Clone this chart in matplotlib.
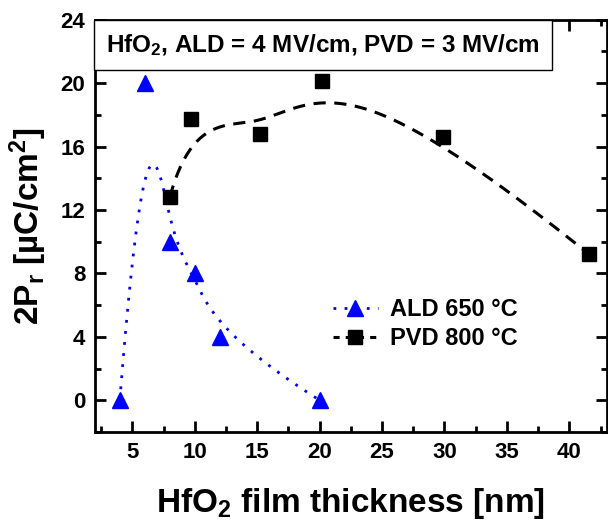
import numpy as np
import matplotlib
matplotlib.use("Agg")
import matplotlib.pyplot as plt

plt.rcParams['font.family'] = ['Liberation Sans', 'DejaVu Sans']
plt.rcParams['font.weight'] = 'bold'
plt.rcParams['axes.labelweight'] = 'bold'
plt.rcParams['mathtext.fontset'] = 'custom'
plt.rcParams['mathtext.rm'] = 'Liberation Sans:bold'
plt.rcParams['mathtext.bf'] = 'Liberation Sans:bold'
plt.rcParams['mathtext.it'] = 'Liberation Sans:bold'
plt.rcParams['mathtext.default'] = 'rm'

# data
ald_thk = [4, 6, 8, 10, 12, 20]
ald_2pr = [0, 20, 10, 8, 4, 0]
pvd_thk = [8, 9.7, 15.2, 20.2, 29.9, 41.6]
pvd_2pr = [12.8, 17.75, 16.8, 20.15, 16.6, 9.2]


def bspline(x, y, k=3, n=300):
    # clamped B-spline with the data points as control points (Origin style "B-spline" connect)
    P = np.column_stack([x, y])
    m = len(P)
    knots = np.concatenate([np.zeros(k), np.linspace(0, 1, m - k + 1), np.ones(k)])
    t = np.linspace(0, 1, n)
    t[-1] -= 1e-9
    N = np.array([((t >= knots[i]) & (t < knots[i + 1])).astype(float) for i in range(len(knots) - 1)])
    for d in range(1, k + 1):
        Nn = np.zeros((len(knots) - 1 - d, n))
        for i in range(len(knots) - 1 - d):
            a = knots[i + d] - knots[i]
            b = knots[i + d + 1] - knots[i + 1]
            left = (t - knots[i]) / a * N[i] if a > 0 else 0
            right = (knots[i + d + 1] - t) / b * N[i + 1] if b > 0 else 0
            Nn[i] = left + right
        N = Nn
    C = N.T @ P
    return C[:, 0], C[:, 1]


fig = plt.figure(figsize=(6.08, 5.21), dpi=100)
ax = fig.add_axes([0.156, 0.171, 0.842, 0.791])

bx, by = bspline(ald_thk, ald_2pr)
ax.plot(bx, by, color='blue', lw=2, linestyle=(0, (1, 3)))
px, py = bspline(pvd_thk, pvd_2pr)
ax.plot(px, py, color='black', lw=2.2, linestyle=(0, (4, 2.8)))

ax.plot(ald_thk, ald_2pr, '^', color='blue', ms=12, ls='none')
ax.plot(pvd_thk, pvd_2pr, 's', color='black', ms=10, ls='none')

# legend handles
h1, = ax.plot([], [], color='blue', lw=2, linestyle=(0, (1, 3)), marker='^', ms=12)
h2, = ax.plot([], [], color='black', lw=2.2, linestyle=(0, (2, 2)), marker='s', ms=10)
ax.legend([h1, h2], ['ALD 650 °C', 'PVD 800 °C'], loc='center left',
          bbox_to_anchor=(0.465, 0.262), frameon=False, fontsize=17,
          handlelength=1.9, handletextpad=0.5, numpoints=1, labelspacing=0.25,
          borderpad=0, borderaxespad=0)

ax.annotate('HfO$_2$, ALD = 4 MV/cm, PVD = 3 MV/cm', xy=(0, 1), xycoords='axes fraction',
            xytext=(8, -9), textcoords='offset points',
            ha='left', va='top', fontsize=17.5,
            bbox=dict(boxstyle='square,pad=0.5', fc='white', ec='black', lw=1))

ax.set_xlim(2, 43)
ax.set_ylim(-2, 24)
ax.set_xticks([5, 10, 15, 20, 25, 30, 35, 40])
ax.set_xticks(np.arange(2.5, 43, 2.5), minor=True)
ax.set_yticks([0, 4, 8, 12, 16, 20, 24])
ax.set_yticks(np.arange(-2, 24.1, 2), minor=True)
ax.tick_params(which='both', direction='in', top=True, right=True, width=2)
ax.tick_params(which='major', length=8, labelsize=16, pad=7)
ax.tick_params(which='minor', length=4)
for s in ax.spines.values():
    s.set_linewidth(2)

ax.set_xlabel('HfO$_2$ film thickness [nm]', fontsize=24, labelpad=17)
ax.set_ylabel('2P$_r$ [µC/cm$^2$]', fontsize=24, labelpad=8)

fig.savefig('out.png', dpi=100)
